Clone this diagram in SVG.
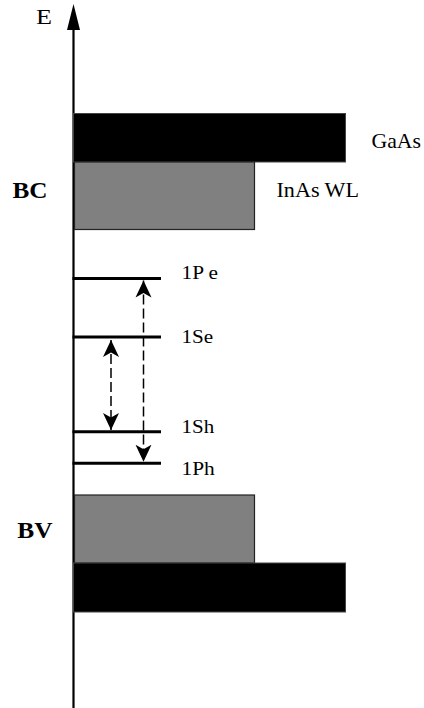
<svg xmlns="http://www.w3.org/2000/svg" width="424" height="708" viewBox="0 0 424 708">
  <style>
    .t { font-family: "Liberation Serif", "Times New Roman", serif; fill: #000; }
    .b { font-weight: bold; }
    .lvl { stroke: #000; stroke-width: 3; fill: none; }
    .dash { stroke: #000; stroke-width: 1.5; fill: none; stroke-dasharray: 10 4; }
    .black { fill: #000; stroke: #444; stroke-width: 1; }
    .grey { fill: #808080; stroke: #222; stroke-width: 1.2; }
  </style>
  <defs>
    <marker id="ah" viewBox="0 0 18 18" refX="17" refY="9" markerWidth="18" markerHeight="18" markerUnits="userSpaceOnUse" orient="auto-start-reverse">
      <path d="M17,9 L0,1 L4.5,9 L0,17 Z" fill="#000"/>
    </marker>
  </defs>
  <rect x="0" y="0" width="424" height="708" fill="#fff"/>

  <g id="axis">
    <line x1="73.5" y1="28" x2="73.5" y2="708" stroke="#000" stroke-width="2.2"/>
    <path d="M73.5,4 L80,30 L67,30 Z" fill="#000"/>
    <text class="t" x="36" y="24" font-size="21" textLength="16" lengthAdjust="spacingAndGlyphs">E</text>
  </g>

  <g id="gaas-cb">
    <rect class="black" x="73.5" y="113.5" width="272" height="48.5"/>
    <text class="t" x="371.5" y="148.3" font-size="21" textLength="49.5" lengthAdjust="spacingAndGlyphs">GaAs</text>
  </g>
  <g id="inas-wl-cb">
    <rect class="grey" x="74.5" y="162" width="180" height="67.5"/>
    <text class="t" x="276.5" y="196.7" font-size="20.5" textLength="82.5" lengthAdjust="spacingAndGlyphs">InAs WL</text>
  </g>
  <g id="bc">
    <text class="t b" x="12.5" y="198.3" font-size="23" textLength="35" lengthAdjust="spacingAndGlyphs">BC</text>
  </g>

  <g id="level-1pe">
    <line class="lvl" x1="72.5" y1="278.5" x2="161" y2="278.5"/>
    <text class="t" x="181.5" y="279.3" font-size="18" textLength="36.5" lengthAdjust="spacingAndGlyphs">1P e</text>
  </g>
  <g id="level-1se">
    <line class="lvl" x1="72.5" y1="337" x2="161" y2="337"/>
    <text class="t" x="181.5" y="343.3" font-size="18" textLength="31.7" lengthAdjust="spacingAndGlyphs">1Se</text>
  </g>
  <g id="level-1sh">
    <line class="lvl" x1="72.5" y1="431.7" x2="161" y2="431.7"/>
    <text class="t" x="181.5" y="433.3" font-size="18" textLength="32.7" lengthAdjust="spacingAndGlyphs">1Sh</text>
  </g>
  <g id="level-1ph">
    <line class="lvl" x1="72.5" y1="463.3" x2="161" y2="463.3"/>
    <text class="t" x="181.5" y="475" font-size="18" textLength="33.3" lengthAdjust="spacingAndGlyphs">1Ph</text>
  </g>

  <g id="inas-wl-vb">
    <rect class="grey" x="74.5" y="495" width="180" height="68"/>
  </g>
  <g id="gaas-vb">
    <rect class="black" x="73.5" y="563" width="272" height="49"/>
  </g>
  <g id="bv">
    <text class="t b" x="17.3" y="537.7" font-size="23" textLength="35.3" lengthAdjust="spacingAndGlyphs">BV</text>
  </g>

  <g id="connectors">
    <line class="dash" x1="143.5" y1="280.5" x2="143.5" y2="461.7" marker-start="url(#ah)" marker-end="url(#ah)"/>
    <line class="dash" x1="111" y1="340" x2="111" y2="430" marker-start="url(#ah)" marker-end="url(#ah)"/>
  </g>
</svg>
